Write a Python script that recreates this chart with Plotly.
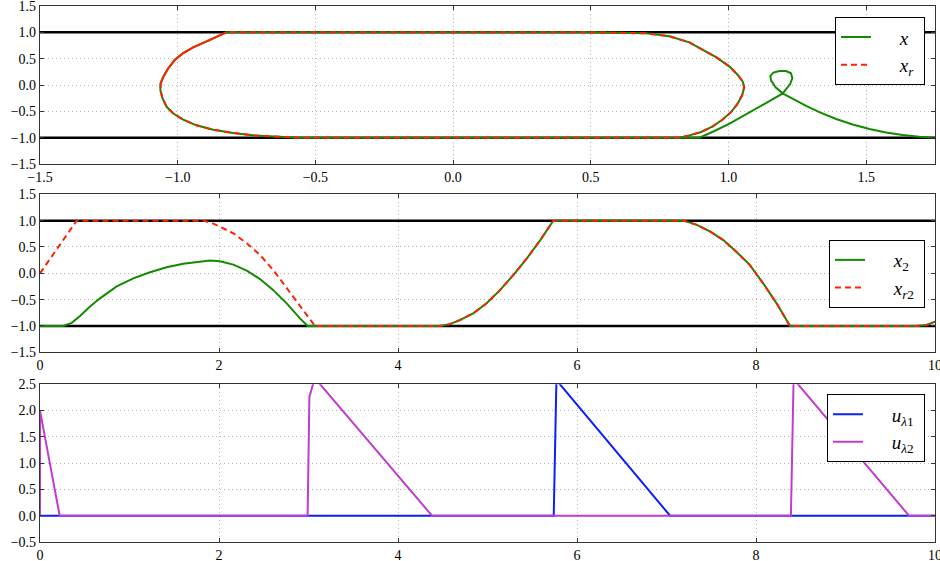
import plotly.graph_objects as go

# ---------------- data ----------------
# top panel: phase plane (x1 horizontal, x2 vertical)
arm_x1 = [1.748, 1.693, 1.633, 1.572, 1.512, 1.451, 1.391, 1.330, 1.282, 1.240, 1.197, 1.171,
          1.155, 1.152, 1.163, 1.185, 1.209, 1.227, 1.232, 1.224, 1.209, 1.197, 1.155, 1.113,
          1.058, 1.004, 0.949, 0.895]
arm_x2 = [-1.0, -0.982, -0.948, -0.900, -0.835, -0.750, -0.645, -0.515, -0.395, -0.280, -0.159, -0.045,
          0.083, 0.172, 0.236, 0.265, 0.265, 0.223, 0.128, 0.019, -0.070, -0.159, -0.287, -0.414,
          -0.574, -0.733, -0.873, -1.0]
left_x1 = [-0.557, -0.653, -0.726, -0.799, -0.871, -0.932, -0.980, -1.016, -1.040, -1.055,
           -1.063, -1.062, -1.052, -1.034, -1.010, -0.980, -0.944, -0.895, -0.859, -0.823]
left_x2 = [-1.0, -0.981, -0.956, -0.911, -0.848, -0.765, -0.656, -0.542, -0.414, -0.255,
           -0.096, 0.032, 0.159, 0.319, 0.478, 0.606, 0.714, 0.829, 0.911, 1.0]
right_x1 = [0.50, 0.605, 0.701, 0.786, 0.858, 0.907, 0.955, 1.004, 1.034, 1.052, 1.057, 1.050,
            1.034, 1.010, 0.979, 0.943, 0.901, 0.858, 0.822]
right_x2 = [1.0, 0.99, 0.981, 0.924, 0.809, 0.669, 0.529, 0.35, 0.191, 0.064, -0.045, -0.191,
            -0.35, -0.51, -0.656, -0.784, -0.892, -0.956, -1.0]
red_start_index = 11   # x_r starts near the left tip (x_r2 = 0)

# middle panel: time histories
g_head_t = [0, 0.26, 0.354, 0.447, 0.559, 0.670, 0.857, 1.043, 1.229, 1.415, 1.60, 1.788, 1.899,
            2.01, 2.16, 2.31, 2.458, 2.607, 2.756, 2.905, 2.99]
g_head_v = [-1.0, -1.0, -0.94, -0.81, -0.63, -0.475, -0.25, -0.095, 0.02, 0.115, 0.18, 0.225, 0.245,
            0.23, 0.165, 0.05, -0.11, -0.32, -0.57, -0.855, -1.0]
r_head_t = [0, 0.41, 1.82, 1.92, 2.01, 2.16, 2.31, 2.458, 2.607, 2.756, 2.905]
r_head_v = [0.0, 1.0, 1.0, 0.955, 0.885, 0.76, 0.57, 0.35, 0.06, -0.285, -0.63]
tail_t = [3.073, 4.47, 4.58, 4.69, 4.84, 4.99, 5.14, 5.29, 5.44, 5.59, 5.735, 7.19, 7.34, 7.49,
          7.635, 7.78, 7.93, 8.08, 8.23, 8.38, 9.795, 9.907, 10.0]
tail_v = [-1.0, -1.0, -0.965, -0.89, -0.76, -0.57, -0.32, -0.03, 0.285, 0.63, 1.0, 1.0, 0.92, 0.79,
          0.63, 0.41, 0.16, -0.19, -0.57, -1.0, -1.0, -0.98, -0.92]

# bottom panel: multipliers
u1_t = [0, 5.74, 5.77, 7.04, 10.0]
u1_v = [0, 0, 2.58, 0, 0]
u2_t = [0, 0, 0.22, 2.99, 3.01, 3.07, 4.38, 8.39, 8.42, 9.71, 10.0]
u2_v = [0, 2.0, 0, 0, 2.26, 2.62, 0, 0, 2.6, 0, 0]

bounds = [-1.0, 1.0]
xlim_top = [-1.5, 1.75]
xlim_t = [0, 10]
ylim_x = [-1.5, 1.5]
ylim_u = [-0.5, 2.5]

# ---------------- build paths ----------------
bottom_x1 = [right_x1[-1], left_x1[0]]
bottom_x2 = [-1.0, -1.0]
top_x1 = [left_x1[-1], right_x1[0]]
top_x2 = [1.0, 1.0]
cycle_x1 = left_x1 + top_x1[1:] + right_x1[1:] + bottom_x1[1:]
cycle_x2 = left_x2 + top_x2[1:] + right_x2[1:] + bottom_x2[1:]

green_x1 = arm_x1 + [left_x1[0]] + cycle_x1[1:]
green_x2 = arm_x2 + [-1.0] + cycle_x2[1:]
red_x1 = left_x1[red_start_index:] + top_x1[1:] + right_x1[1:] + bottom_x1[1:] + left_x1[1:]
red_x2 = left_x2[red_start_index:] + top_x2[1:] + right_x2[1:] + bottom_x2[1:] + left_x2[1:]

x2_t = g_head_t + tail_t
x2_v = g_head_v + tail_v
xr2_t = r_head_t + tail_t
xr2_v = r_head_v + tail_v

GREEN = "#138a00"
RED = "#ff2200"
BLUE = "#0a1eff"
MAG = "#c03ccc"
FONT = "Liberation Serif, DejaVu Serif, serif"
PAD = "&nbsp;" * 5
TAIL = "&nbsp;"

fig = go.Figure()

# constraint lines
for b in bounds:
    fig.add_trace(go.Scatter(x=xlim_top, y=[b, b], mode="lines", line=dict(color="black", width=2.5),
                             showlegend=False, hoverinfo="skip", xaxis="x", yaxis="y"))
    fig.add_trace(go.Scatter(x=xlim_t, y=[b, b], mode="lines", line=dict(color="black", width=2.5),
                             showlegend=False, hoverinfo="skip", xaxis="x2", yaxis="y2"))

fig.add_trace(go.Scatter(x=green_x1, y=green_x2, mode="lines", name=PAD + "<i>x</i>" + TAIL,
                         line=dict(color=GREEN, width=2), xaxis="x", yaxis="y", legend="legend"))
fig.add_trace(go.Scatter(x=red_x1, y=red_x2, mode="lines", name=PAD + "<i>x</i><sub><i>r</i></sub>" + TAIL,
                         line=dict(color=RED, width=2, dash="6px,4px"), xaxis="x", yaxis="y",
                         legend="legend"))
fig.add_trace(go.Scatter(x=x2_t, y=x2_v, mode="lines", name=PAD + "<i>x</i><sub>2</sub>" + TAIL,
                         line=dict(color=GREEN, width=2), xaxis="x2", yaxis="y2", legend="legend2"))
fig.add_trace(go.Scatter(x=xr2_t, y=xr2_v, mode="lines", name=PAD + "<i>x</i><sub><i>r</i>2</sub>" + TAIL,
                         line=dict(color=RED, width=2, dash="6px,4px"), xaxis="x2", yaxis="y2",
                         legend="legend2"))
fig.add_trace(go.Scatter(x=u1_t, y=u1_v, mode="lines", name=PAD + "<i>u</i><sub><i>λ</i>1</sub>" + TAIL,
                         line=dict(color=BLUE, width=2), xaxis="x3", yaxis="y3", legend="legend3"))
fig.add_trace(go.Scatter(x=u2_t, y=u2_v, mode="lines", name=PAD + "<i>u</i><sub><i>λ</i>2</sub>" + TAIL,
                         line=dict(color=MAG, width=2), xaxis="x3", yaxis="y3", legend="legend3"))

axis_common = dict(showline=True, linecolor="#333", linewidth=1.2, mirror="ticks", ticks="inside",
                   ticklen=4, tickcolor="#333", showgrid=True, gridcolor="#b5b5b5", griddash="1px,3px",
                   gridwidth=1, zeroline=False, automargin=False, ticklabeloverflow="allow",
                   tickfont=dict(family=FONT, size=14, color="black"))

legend_common = dict(xanchor="right", yanchor="top", bgcolor="white", bordercolor="black", borderwidth=1,
                     font=dict(family=FONT, size=19, color="black"), itemwidth=30, tracegroupgap=0)

fig.update_layout(
    width=940, height=561, margin=dict(l=40, r=5, t=6, b=19),
    paper_bgcolor="white", plot_bgcolor="white",
    font=dict(family=FONT, color="black"),
    xaxis=dict(domain=[0, 1], range=xlim_top, dtick=0.5, tick0=-1.5, tickformat=".1f", anchor="y", **axis_common),
    yaxis=dict(domain=[0.7052, 1.0], range=ylim_x, dtick=0.5, tickformat=".1f", anchor="x", **axis_common),
    xaxis2=dict(domain=[0, 1], range=xlim_t, dtick=2, anchor="y2", **axis_common),
    yaxis2=dict(domain=[0.3539, 0.6487], range=ylim_x, dtick=0.5, tickformat=".1f", anchor="x2", **axis_common),
    xaxis3=dict(domain=[0, 1], range=xlim_t, dtick=2, anchor="y3", **axis_common),
    yaxis3=dict(domain=[0.0, 0.2942], range=ylim_u, dtick=0.5, tickformat=".1f", anchor="x3", **axis_common),
    legend=dict(x=0.9888, y=0.979, **legend_common),
    legend2=dict(x=0.9888, y=0.5634, **legend_common),
    legend3=dict(x=0.9888, y=0.2756, **legend_common),
)

fig.write_html("out.html", config={"displayModeBar": False},
               post_script="document.body.style.margin='0px';")
